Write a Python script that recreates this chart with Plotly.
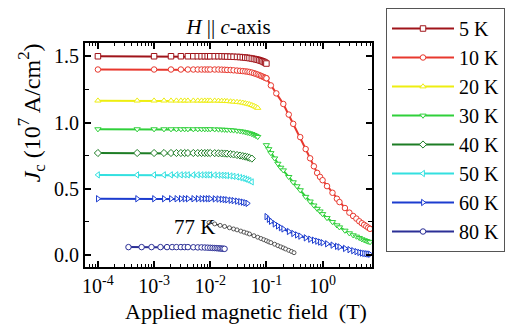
import plotly.graph_objects as go

# ---------------- data ----------------
H_low = [1e-4, 1e-3, 2e-3, 3e-3, 4e-3, 5e-3, 6e-3, 7e-3, 8e-3, 9e-3, 0.01,
         0.012, 0.014, 0.016, 0.018, 0.02, 0.023, 0.026, 0.03,
         0.034, 0.038, 0.042, 0.046, 0.05, 0.055, 0.06, 0.065, 0.07, 0.075,
         0.08, 0.085, 0.09, 0.095, 0.1]
H_low_b = [1e-4, 5e-4, 1e-3, 1.5e-3, 2e-3, 2.5e-3, 3e-3, 3.5e-3, 4e-3, 5e-3,
           6e-3, 7e-3, 8e-3, 9e-3, 0.01, 0.012, 0.014, 0.016, 0.018, 0.02,
           0.023, 0.026, 0.03, 0.034, 0.038, 0.042, 0.046, 0.05, 0.055, 0.06,
           0.065, 0.07]
H_high = [0.1, 0.11, 0.12, 0.14, 0.16, 0.18, 0.2, 0.25, 0.3, 0.35, 0.4, 0.5,
          0.6, 0.7, 0.8, 0.9, 1.0, 1.2, 1.5, 1.8, 2.0, 2.5, 3.0, 3.5, 4.0, 4.5,
          5.0, 5.5, 6.0, 6.5, 7.0]
H_10_high = [0.12, 0.15, 0.2, 0.25, 0.3, 0.4, 0.5, 0.6, 0.7, 0.8, 0.9, 1.0,
             1.2, 1.5, 1.8, 2.0, 2.5, 3.0, 3.5, 4.0, 4.5, 5.0, 5.5, 6.0, 6.5, 7.0]
H_80 = [3.5e-4, 6e-4, 9e-4, 1.3e-3, 1.7e-3, 2.1e-3, 2.5e-3, 3e-3, 3.5e-3, 4e-3,
        5e-3, 6e-3, 7e-3, 8e-3, 9e-3, 0.01, 0.011, 0.012, 0.013, 0.014, 0.015,
        0.016, 0.017, 0.018]
H_77 = [0.0095, 0.012, 0.015, 0.018, 0.022, 0.026, 0.03, 0.035, 0.04, 0.045,
        0.05, 0.06, 0.07, 0.08, 0.09, 0.1, 0.11, 0.12, 0.14, 0.16, 0.18, 0.2,
        0.22, 0.25, 0.28, 0.31]

J_5 = [1.50, 1.50, 1.50, 1.50, 1.50, 1.50, 1.50, 1.50, 1.50, 1.50, 1.50,
       1.50, 1.50, 1.50, 1.499, 1.498, 1.497, 1.496, 1.495,
       1.494, 1.492, 1.49, 1.488, 1.486, 1.483, 1.48, 1.477, 1.474, 1.47,
       1.466, 1.462, 1.457, 1.452, 1.445]
J_10_low = [1.40, 1.40, 1.40, 1.40, 1.40, 1.40, 1.40, 1.40, 1.40, 1.40, 1.40,
            1.40, 1.40, 1.399, 1.398, 1.397, 1.396, 1.394, 1.392,
            1.39, 1.388, 1.386, 1.384, 1.381, 1.377, 1.372, 1.367, 1.362, 1.357,
            1.352, 1.347, 1.342, 1.338, 1.334]
J_10_high = [1.28, 1.22, 1.14, 1.06, 0.99, 0.89, 0.80, 0.73, 0.67, 0.62, 0.59,
             0.565, 0.52, 0.47, 0.425, 0.40, 0.355, 0.32, 0.295, 0.275, 0.255,
             0.24, 0.228, 0.217, 0.207, 0.198]
J_20 = [1.165, 1.165, 1.165, 1.165, 1.165, 1.165, 1.165, 1.165, 1.165, 1.165,
        1.165, 1.165, 1.165, 1.165, 1.165, 1.165, 1.164, 1.163, 1.162, 1.161,
        1.159, 1.157, 1.155, 1.152, 1.149, 1.145, 1.141, 1.137, 1.131, 1.125,
        1.118, 1.11]
J_30_low = [0.95, 0.95, 0.95, 0.95, 0.95, 0.95, 0.95, 0.95, 0.95, 0.95,
            0.95, 0.95, 0.95, 0.95, 0.95, 0.949, 0.948, 0.947, 0.946, 0.945,
            0.943, 0.941, 0.938, 0.935, 0.932, 0.928, 0.924, 0.92, 0.914, 0.907,
            0.90, 0.892]
J_30_high = [0.83, 0.80, 0.77, 0.73, 0.69, 0.66, 0.64, 0.59, 0.55, 0.52, 0.49,
             0.44, 0.405, 0.375, 0.35, 0.33, 0.31, 0.28, 0.25, 0.225, 0.21,
             0.185, 0.165, 0.15, 0.14, 0.13, 0.12, 0.113, 0.107, 0.102, 0.098]
J_40 = [0.77, 0.77, 0.77, 0.77, 0.77, 0.77, 0.77, 0.77, 0.77, 0.77,
        0.77, 0.77, 0.77, 0.77, 0.77, 0.769, 0.768, 0.767, 0.766, 0.765,
        0.762, 0.759, 0.755, 0.751, 0.747, 0.743, 0.739, 0.734, 0.728]
J_50 = [0.605, 0.605, 0.605, 0.605, 0.605, 0.605, 0.605, 0.605, 0.605, 0.605,
        0.605, 0.605, 0.605, 0.605, 0.605, 0.604, 0.603, 0.602, 0.601, 0.60,
        0.597, 0.594, 0.59, 0.585, 0.58, 0.574, 0.568, 0.561, 0.552]
J_60_low = [0.425, 0.425, 0.425, 0.425, 0.425, 0.425, 0.425, 0.425, 0.425,
            0.425, 0.425, 0.425, 0.425, 0.425, 0.425, 0.424, 0.423, 0.421,
            0.419, 0.417, 0.414, 0.411, 0.407, 0.403, 0.399, 0.395, 0.39]
J_60_high = [0.29, 0.27, 0.255, 0.235, 0.22, 0.207, 0.197, 0.178, 0.163, 0.152,
             0.143, 0.13, 0.12, 0.112, 0.105, 0.098, 0.093, 0.085, 0.075, 0.066,
             0.061, 0.05, 0.041, 0.033, 0.026, 0.02, 0.015, 0.012, 0.01, 0.008,
             0.006]
J_80 = [0.06, 0.06, 0.06, 0.06, 0.06, 0.06, 0.06, 0.06, 0.06, 0.06,
        0.059, 0.058, 0.058, 0.057, 0.056, 0.055, 0.054, 0.053, 0.052, 0.051,
        0.05, 0.049, 0.048, 0.047]
J_77 = [0.245, 0.235, 0.224, 0.216, 0.206, 0.197, 0.19, 0.181, 0.173, 0.166,
        0.159, 0.146, 0.135, 0.125, 0.116, 0.108, 0.10, 0.094, 0.082, 0.071,
        0.062, 0.054, 0.046, 0.036, 0.027, 0.018]

x_tickvals = [1e-4, 1e-3, 1e-2, 1e-1, 1]
x_ticktext = ["10<sup>-4</sup>", "10<sup>-3</sup>", "10<sup>-2</sup>",
              "10<sup>-1</sup>", "10<sup>0</sup>"]
y_tickvals = [0, 0.5, 1.0, 1.5]
y_ticktext = ["0.0", "0.5", "1.0", "1.5"]

# ---------------- styling ----------------
FONT = "Liberation Serif"
series = [
    ("5 K", "#a0141a", "square", [(H_low, J_5)]),
    ("10 K", "#e8382e", "circle", [(H_low, J_10_low), ([0.1] + H_10_high, [J_10_low[-1]] + J_10_high)]),
    ("20 K", "#eeee10", "triangle-up", [(H_low_b, J_20)]),
    ("30 K", "#2fd03a", "triangle-down", [(H_low_b, J_30_low), (H_high, J_30_high)]),
    ("40 K", "#1d7d25", "diamond", [(H_low_b[:len(J_40)], J_40)]),
    ("50 K", "#33e0e0", "triangle-left", [(H_low_b[:len(J_50)], J_50)]),
    ("60 K", "#1c3ccf", "triangle-right", [(H_low_b[:len(J_60_low)], J_60_low), (H_high, J_60_high)]),
    ("80 K", "#2b2f96", "circle", [(H_80, J_80)]),
]

fig = go.Figure()
for name, color, sym, segs in series:
    for i, (hx, jy) in enumerate(segs):
        fig.add_trace(go.Scatter(
            x=hx, y=jy, mode="lines+markers", name=name, legendgroup=name,
            showlegend=(i == 0),
            line=dict(color=color, width=2),
            marker=dict(symbol=sym, size=5.5, color="white",
                        line=dict(color=color, width=1)),
        ))

fig.add_trace(go.Scatter(
    x=H_77, y=J_77, mode="lines+markers", name="77 K", showlegend=False,
    line=dict(color="#222222", width=1.3),
    marker=dict(symbol="circle", size=4, color="white",
                line=dict(color="#333333", width=0.8)),
))

fig.add_annotation(x=-1.88, y=0.215, xref="x", yref="y", text="77 K",
                   showarrow=False, xanchor="right", yanchor="middle",
                   font=dict(family=FONT, size=21, color="black"))

minor_x = [m * 10 ** e for e in range(-5, 1) for m in range(2, 10)]

fig.update_xaxes(
    type="log", range=[-4.23, 0.88],
    tickvals=x_tickvals, ticktext=x_ticktext,
    ticks="inside", ticklen=6, tickwidth=1.5, tickcolor="black",
    showline=True, linewidth=2, linecolor="black", mirror="ticks",
    showgrid=False, zeroline=False,
    tickfont=dict(family=FONT, size=20, color="black"),
    minor=dict(tickvals=minor_x, ticks="inside", ticklen=3, tickwidth=1,
               tickcolor="black", showgrid=False),
)
fig.update_yaxes(
    range=[-0.09, 1.6],
    tickvals=y_tickvals, ticktext=y_ticktext,
    ticks="inside", ticklen=6, tickwidth=1.5, tickcolor="black",
    showline=True, linewidth=2, linecolor="black", mirror="ticks",
    showgrid=False, zeroline=False,
    tickfont=dict(family=FONT, size=20, color="black"),
    minor=dict(dtick=0.25, ticks="inside", ticklen=4, tickwidth=1,
               tickcolor="black", showgrid=False),
)

# axis titles
fig.add_annotation(x=0.56, y=-0.2, xref="paper", yref="paper",
                   text="Applied magnetic field  (T)", showarrow=False,
                   xanchor="center", yanchor="middle",
                   font=dict(family=FONT, size=22, color="black"))
fig.add_annotation(x=-0.185, y=0.69, xref="paper", yref="paper",
                   text="<i>J</i><sub>c</sub> (10<sup>7</sup> A/cm<sup>2</sup>)",
                   showarrow=False, textangle=-90,
                   xanchor="center", yanchor="middle",
                   font=dict(family=FONT, size=24, color="black"))

fig.update_layout(
    width=507, height=326,
    margin=dict(l=85, r=114, t=43, b=59),
    plot_bgcolor="white", paper_bgcolor="white",
    title=dict(text="<i>H</i> || <i>c</i>-axis", x=0.5, xref="paper",
               y=1 - 27 / 326, yref="container", yanchor="middle",
               xanchor="center",
               font=dict(family=FONT, size=21, color="black")),
    legend=dict(x=386 / 507, y=1 - 8 / 326, xref="container", yref="container",
                xanchor="left", yanchor="top", maxheight=300,
                bgcolor="white", bordercolor="#555555", borderwidth=1,
                font=dict(family=FONT, size=20, color="black"),
                itemwidth=62, tracegroupgap=0),
)

fig.write_html("out.html")
